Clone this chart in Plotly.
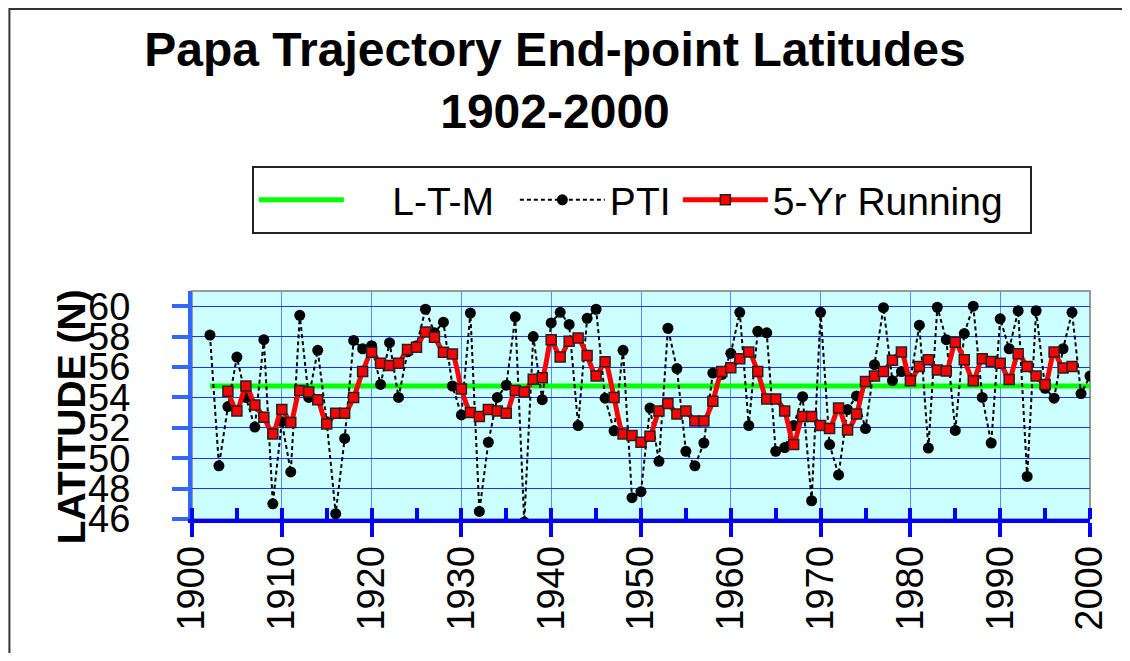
import plotly.graph_objects as go

# ---- data ------------------------------------------------------------------
YEARS = list(range(1902, 2001))
PTI = [
    58.1, 49.5, 53.4, 56.65, 54.0, 52.05, 57.8, 47.0, 52.4,          # 1902-1910
    49.1, 59.4, 54.0, 57.1, 52.4, 46.35, 51.3, 57.75, 57.2, 57.4,    # 1911-1920
    54.85, 57.6, 54.0, 57.0, 57.4, 59.8, 58.25, 58.95, 54.75, 52.85, # 1921-1930
    59.55, 46.5, 51.05, 54.0, 54.8, 59.3, 45.8, 58.0, 53.85, 58.9,   # 1931-1940
    59.6, 58.8, 52.15, 59.2, 59.8, 53.95, 51.8, 57.1, 47.4, 47.8,    # 1941-1950
    53.3, 49.8, 58.55, 55.9, 50.45, 49.5, 51.0, 55.6, 55.5, 56.9,    # 1951-1960
    59.6, 52.15, 58.35, 58.25, 50.45, 50.7, 52.15, 54.05, 47.2, 59.6,# 1961-1970
    50.9, 48.9, 53.2, 54.1, 51.95, 56.15, 59.9, 55.1, 55.7, 55.2,    # 1971-1980
    58.75, 50.67, 59.93, 57.8, 51.83, 58.2, 60.0, 54.0, 51.0, 59.17, # 1981-1990
    57.2, 59.7, 48.8, 59.7, 54.6, 53.95, 57.2, 59.6, 54.25, 55.4,    # 1991-2000
]

RUN_YEARS = list(range(1904, 1999))
RUN_5YR = [
    54.4, 53.1, 54.75, 53.5, 52.7, 51.6, 53.2,                       # 1904-1910
    52.35, 54.45, 54.35, 53.85, 52.25, 52.95, 52.95, 54.0, 55.7, 56.97,
    56.25, 56.1, 56.25, 57.15, 57.3, 58.3, 57.95, 56.97, 56.86, 54.55,
    53.0, 52.75, 53.2, 53.1, 52.95, 54.45, 54.35, 55.2, 55.3, 57.8,
    56.65, 57.7, 57.9, 56.75, 55.4, 56.35, 54.0, 51.6, 51.5, 51.05,
    51.45, 53.1, 53.6, 52.9, 53.1, 52.45, 52.45, 53.75, 55.7, 55.95,
    56.55, 56.98, 55.7, 53.9, 53.9, 53.1, 50.9, 52.75, 52.75, 52.15,
    51.95, 53.3, 51.85, 52.9, 55.05, 55.4, 55.7, 56.45, 56.98, 55.1,
    56.03, 56.47, 55.8, 55.73, 57.63, 56.47, 55.1, 56.54, 56.36, 56.25,
    55.18, 56.87, 56.03, 55.4, 54.85, 56.98, 55.93, 56.03,           # 1991-1998
]

LTM_YEARS = [1902, 2000]
LTM = [54.75, 54.75]

FONT = "Liberation Sans, Arial, sans-serif"
AXIS_BLUE = "#0000FF"
Y_BLUE = "#3366FF"
NB = "\u00a0"

# page body has an 8px margin: the figure is sized so it fits the window
W, H = 1114, 645
PL, PT, PW, PH = 184, 283, 900, 228   # plot area inside the figure


def px_x(sx):
    """screen x -> paper x"""
    return (sx - 8 - PL) / PW


def px_y(sy):
    """screen y -> paper y"""
    return (PT + PH - (sy - 8)) / PH


fig = go.Figure()

fig.add_trace(go.Scatter(
    x=LTM_YEARS, y=LTM, name=NB * 4 + "L-T-M", mode="lines",
    line=dict(color="#00FF00", width=5),
    legendwidth=161,
))
fig.add_trace(go.Scatter(
    x=YEARS, y=PTI, name="PTI", mode="lines+markers",
    line=dict(color="black", width=2, dash="4px,3px"),
    marker=dict(symbol="circle", size=11, color="black"),
    legendwidth=63,
))
fig.add_trace(go.Scatter(
    x=RUN_YEARS, y=RUN_5YR, name="5-Yr Running", mode="lines+markers",
    line=dict(color="#FF0000", width=5, shape="spline", smoothing=0.6),
    marker=dict(symbol="square", size=10, color="#FF0000",
                line=dict(color="#222222", width=1.5)),
    legendwidth=252,
))

fig.update_layout(
    width=W, height=H,
    margin=dict(l=PL, r=W - PL - PW, t=PT, b=H - PT - PH, pad=0),
    paper_bgcolor="white", plot_bgcolor="#CCFFFF",
    font=dict(family=FONT, color="black", size=38),
    title=dict(
        text="Papa Trajectory End-point Latitudes<br>1902-2000",
        font=dict(family=FONT, size=48, weight="bold", color="black"),
        x=(555 - 8) / W, xanchor="center", xref="container",
        y=1 - 58 / H, yanchor="top", yref="container",
    ),
    legend=dict(
        orientation="h", x=px_x(252), y=px_y(166),
        xanchor="left", yanchor="top", itemwidth=85,
        bgcolor="white", bordercolor="#222222", borderwidth=2,
        font=dict(family=FONT, size=39, color="black"),
    ),
    xaxis=dict(
        range=[1900, 2000], dtick=10, tick0=1900,
        showline=True, linecolor=AXIS_BLUE, linewidth=4,
        ticks="outside", ticklen=14, tickwidth=4, tickcolor=AXIS_BLUE,
        tickangle=-90, tickfont=dict(size=38), ticklabelstandoff=-6,
        showgrid=True, gridcolor="#5C8AFF", gridwidth=1,
        zeroline=False,
        minor=dict(ticks="inside", dtick=5, ticklen=11, tickwidth=4,
                   tickcolor=AXIS_BLUE, showgrid=False),
    ),
    xaxis2=dict(
        range=[1900, 2000], dtick=10, tick0=1900, overlaying="x",
        anchor="y", side="bottom",
        ticks="inside", ticklen=11, tickwidth=4, tickcolor=AXIS_BLUE,
        showticklabels=False, showgrid=False, showline=False, zeroline=False,
    ),
    yaxis=dict(
        range=[46, 61], dtick=2, tick0=46,
        showline=True, linecolor=Y_BLUE, linewidth=4,
        ticks="outside", ticklen=16, tickwidth=4, tickcolor=Y_BLUE,
        tickfont=dict(size=38), ticklabelstandoff=34,
        showgrid=True, gridcolor="#2233EE", gridwidth=1,
        zeroline=False,
    ),
    annotations=[dict(
        text="<b>LATITUDE (N)</b>", textangle=-90,
        x=px_x(71), y=px_y(417), xanchor="center", yanchor="middle",
        xref="paper", yref="paper", showarrow=False,
        font=dict(family=FONT, size=39, color="black"),
    )],
    shapes=[
        # grey frame on top/right of the plot area
        dict(type="rect", xref="paper", yref="paper", x0=0, x1=1, y0=0, y1=1,
             line=dict(color="#999999", width=2), layer="below"),
        # outer chart border
        dict(type="rect", xref="paper", yref="paper",
             x0=px_x(9), x1=px_x(1160), y0=px_y(700), y1=px_y(9),
             line=dict(color="#333333", width=2)),
    ],
)

fig.write_html("out.html")
